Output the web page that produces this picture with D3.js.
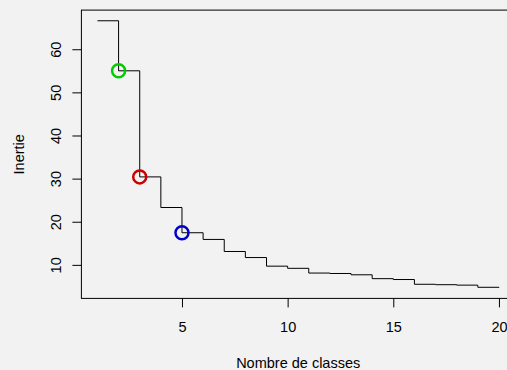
<!DOCTYPE html>
<html>
<head>
<meta charset="utf-8">
<script src="https://cdn.jsdelivr.net/npm/d3@7"></script>
<style>
  html, body { margin: 0; padding: 0; background: #f2f2f2; overflow: hidden; }
  svg { display: block; font-family: "Liberation Sans", Arial, sans-serif; }
</style>
</head>
<body>
<div id="chart"></div>
<script>
// nombre de classes et inertie intra
const classes = [1, 2, 3, 4, 5, 6, 7, 8, 9, 10, 11, 12, 13, 14, 15, 16, 17, 18, 19, 20];
const inertie = [66.6, 55.0, 30.4, 23.3, 17.45, 15.9, 13.1, 11.7, 9.7, 9.2, 8.1, 8.0, 7.7, 6.8, 6.6, 5.5, 5.4, 5.3, 4.8, 4.7];
const xTicks = [5, 10, 15, 20];
const yTicks = [10, 20, 30, 40, 50, 60];
// points mis en évidence
const highlightK = [2, 3, 5];
const highlightColor = ['#00cd00', '#cd0000', '#0000cd'];

const W = 507, H = 370;
const plot = { left: 81.4, right: 515, top: 10.1, bottom: 298.4 };
const fontSize = 14.5;

// R-like 4% extension of the ranges
function ext(lo, hi) { const d = (hi - lo) * 0.04; return [lo - d, hi + d]; }

const x = d3.scaleLinear().domain(ext(d3.min(classes), d3.max(classes))).range([plot.left, plot.right]);
const y = d3.scaleLinear().domain(ext(d3.min(inertie), d3.max(inertie))).range([plot.bottom, plot.top]);

const svg = d3.select('#chart').append('svg')
  .attr('width', W)
  .attr('height', H);

svg.append('rect').attr('width', W).attr('height', H).attr('fill', '#f2f2f2');

const pts = classes.map((k, i) => ({ k: k, v: inertie[i] }));

const line = d3.line()
  .x(d => x(d.k))
  .y(d => y(d.v))
  .curve(d3.curveStepAfter);

svg.append('path')
  .datum(pts)
  .attr('d', line)
  .attr('fill', 'none')
  .attr('stroke', '#000')
  .attr('stroke-width', 1);

svg.selectAll('.pt')
  .data(highlightK)
  .enter()
  .append('circle')
  .attr('class', 'pt')
  .attr('cx', k => x(k))
  .attr('cy', k => y(inertie[classes.indexOf(k)]))
  .attr('r', 6.5)
  .attr('fill', 'none')
  .attr('stroke', (k, i) => highlightColor[i])
  .attr('stroke-width', 2.5);

// axes
const xAxis = svg.append('g')
  .attr('transform', `translate(0,${plot.bottom})`)
  .call(d3.axisBottom(x).tickValues(xTicks).tickSize(9).tickPadding(14.3).tickFormat(d3.format('d')));

const yAxis = svg.append('g')
  .attr('transform', `translate(${plot.left},0)`)
  .call(d3.axisLeft(y).tickValues(yTicks).tickSize(9).tickFormat(d3.format('d')));

yAxis.selectAll('.tick text')
  .attr('x', 0)
  .attr('dy', 0)
  .attr('y', -20.4)
  .attr('text-anchor', 'middle')
  .attr('transform', 'rotate(-90)');

[xAxis, yAxis].forEach(a => {
  a.select('.domain').remove();
  a.selectAll('.tick line').attr('stroke', '#000');
  a.selectAll('.tick text').attr('fill', '#000').attr('font-size', fontSize).attr('font-family', null);
});

// cadre
svg.append('rect')
  .attr('x', plot.left)
  .attr('y', plot.top)
  .attr('width', plot.right - plot.left)
  .attr('height', plot.bottom - plot.top)
  .attr('fill', 'none')
  .attr('stroke', '#000')
  .attr('stroke-width', 1);

svg.append('text')
  .attr('x', (plot.left + plot.right) / 2)
  .attr('y', 368)
  .attr('text-anchor', 'middle')
  .attr('font-size', fontSize)
  .text('Nombre de classes');

svg.append('text')
  .attr('transform', `translate(24,${(plot.top + plot.bottom) / 2}) rotate(-90)`)
  .attr('text-anchor', 'middle')
  .attr('font-size', fontSize)
  .text('Inertie');
</script>
</body>
</html>
